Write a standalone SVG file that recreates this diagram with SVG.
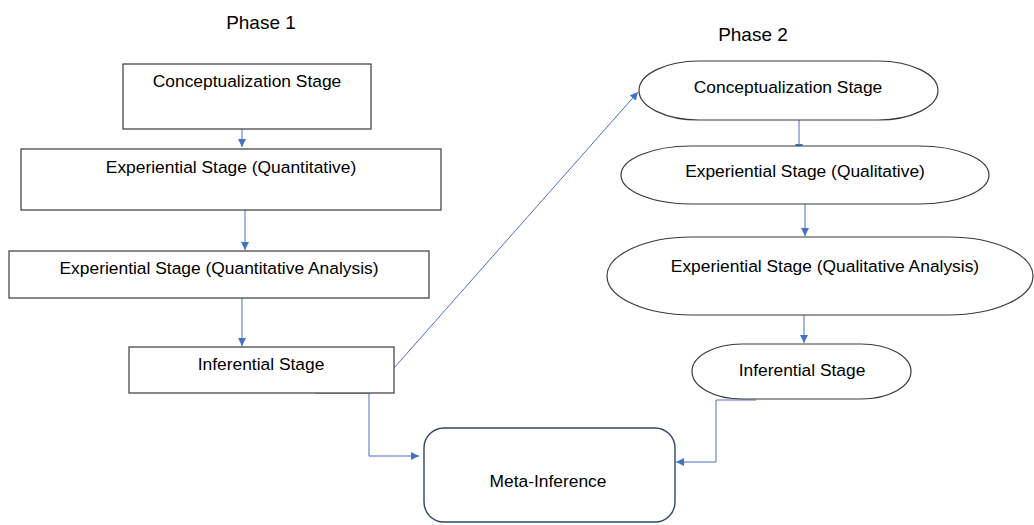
<svg xmlns="http://www.w3.org/2000/svg" width="1034" height="525" viewBox="0 0 1034 525">
<style>
text{font-family:"Liberation Sans",Arial,sans-serif;fill:#000;text-anchor:middle}
.t{font-size:17.4px}
.ph{font-size:19px}
.box{fill:#fff;stroke:#3a3a3a;stroke-width:1.2}
.meta{fill:#fff;stroke:#2f4668;stroke-width:1.4}
.c{fill:none;stroke:#4472c4;stroke-width:1}
</style>
<defs>
<marker id="ah" viewBox="0 0 10 10" refX="10" refY="5" markerWidth="8" markerHeight="8" markerUnits="userSpaceOnUse" orient="auto">
<path d="M0,0 L10,5 L0,10 z" fill="#4472c4"/>
</marker>
</defs>
<rect width="1034" height="525" fill="#fff"/>
<text class="ph" x="261" y="29">Phase 1</text>
<text class="ph" x="753" y="41">Phase 2</text>
<g id="connectors">
<path class="c" d="M242,129 V147" marker-end="url(#ah)"/>
<path class="c" d="M245,210 V250" marker-end="url(#ah)"/>
<path class="c" d="M242,298 V346" marker-end="url(#ah)"/>
<path class="c" d="M394,368 L638,92" marker-end="url(#ah)"/>
<path class="c" d="M799,120 V152" marker-end="url(#ah)"/>
<path class="c" d="M805,204 V236" marker-end="url(#ah)"/>
<path class="c" d="M804,315 V343" marker-end="url(#ah)"/>
<path class="c" d="M315,393 H369 V456 H419" marker-end="url(#ah)"/>
<path class="c" d="M756,400 H716 V462 H676" marker-end="url(#ah)"/>
</g>
<g id="p1-concept">
<rect class="box" x="123" y="64" width="248" height="65"/>
<text class="t" x="247" y="87">Conceptualization Stage</text>
</g>
<g id="p1-exp-quant">
<rect class="box" x="21" y="149" width="420" height="61"/>
<text class="t" x="231" y="173">Experiential Stage (Quantitative)</text>
</g>
<g id="p1-exp-quant-analysis">
<rect class="box" x="9" y="251" width="420" height="47"/>
<text class="t" x="219" y="274">Experiential Stage (Quantitative Analysis)</text>
</g>
<g id="p1-inferential">
<rect class="box" x="129" y="347" width="265" height="46"/>
<text class="t" x="261" y="370">Inferential Stage</text>
</g>
<g id="p2-concept">
<rect class="box" x="639" y="61" width="299" height="59" rx="60" ry="29.5"/>
<text class="t" x="788" y="93">Conceptualization Stage</text>
</g>
<g id="p2-exp-qual">
<rect class="box" x="621" y="146" width="368" height="58" rx="70" ry="29"/>
<text class="t" x="805" y="177">Experiential Stage (Qualitative)</text>
</g>
<g id="p2-exp-qual-analysis">
<rect class="box" x="607" y="237" width="426" height="78" rx="85" ry="39"/>
<text class="t" x="825" y="272">Experiential Stage (Qualitative Analysis)</text>
</g>
<g id="p2-inferential">
<rect class="box" x="692" y="344" width="219" height="55" rx="50" ry="27.5"/>
<text class="t" x="802" y="376">Inferential Stage</text>
</g>
<g id="meta-inference">
<rect class="meta" x="424" y="428" width="251" height="94" rx="20" ry="20"/>
<text class="t" x="548" y="487">Meta-Inference</text>
</g>
</svg>
